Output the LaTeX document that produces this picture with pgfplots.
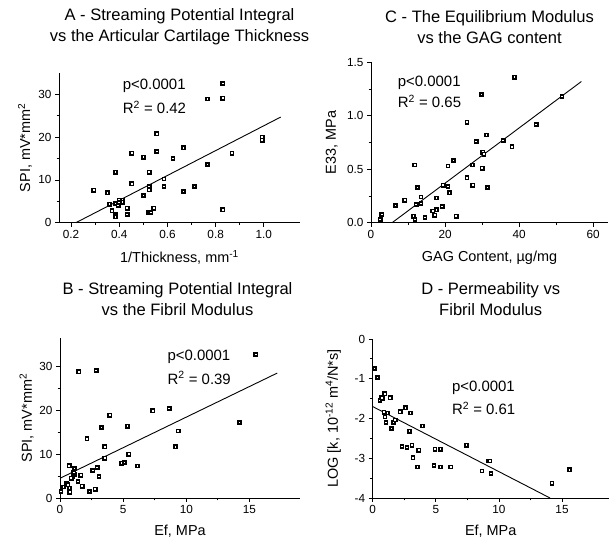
\documentclass[border=0pt]{standalone}
\usepackage{fontspec}
\setmainfont{Liberation Sans}
\usepackage{pgfplots}
\pgfplotsset{compat=1.18}
\pgfplotsset{
  panel/.style={
    scale only axis, anchor=south west,
    axis x line*=bottom, axis y line*=left,
    axis line style={-, line width=0.8bp},
    tick align=outside, major tick length=4bp, minor tick length=2.5bp,
    every tick/.style={black, line width=0.8bp},
    minor tick num=1,
    xtick pos=bottom, ytick pos=left,
    tick label style={font=\fontsize{11.8}{12}\selectfont},
    label style={font=\fontsize{14.5}{15}\selectfont},
    /pgf/number format/assume math mode=true,
    clip=false,
  },
  pts/.style={only marks, mark=square*, mark size=1.6bp,
    mark options={fill=white, draw=black, line width=1.6bp}},
  fitline/.style={no marks, black, line width=0.9bp},
}
\tikzset{
  ann/.style={font=\fontsize{15}{15}\selectfont, anchor=west, inner sep=0pt},
  ttl/.style={font=\fontsize{16.6}{21}\selectfont, align=center, inner sep=0pt},
}
\begin{document}
\begin{tikzpicture}[x=1bp,y=1bp]
\useasboundingbox (0,0) rectangle (609,539);

% ---------------- Panel A ----------------
\begin{axis}[panel, at={(59bp,316.3bp)}, width=241bp, height=149.7bp,
  xmin=0.15, xmax=1.15, ymin=0, ymax=35,
  xtick={0.2,0.4,0.6,0.8,1.0}, ytick={0,10,20,30},
  xticklabel style={/pgf/number format/.cd, fixed, fixed zerofill, precision=1},
  xlabel={1/Thickness, mm\textsuperscript{-1}},
  ylabel={SPI, mV*mm\textsuperscript{2}},
  xlabel style={at={(axis description cs:0.5,0)}, anchor=center, yshift=-34.6bp},
  ylabel style={at={(axis description cs:0,0.5)}, anchor=center, yshift=34bp}]
\addplot[pts] table {
0.830 32.5
0.766 28.9
0.830 29.1
0.993 20.0
0.993 19.3
0.556 20.8
0.452 16.25
0.501 15.3
0.556 16.6
0.666 17.5
0.623 15.0
0.868 16.25
0.385 11.8
0.524 11.8
0.766 13.6
0.586 10.2
0.586 8.5
0.452 9.1
0.524 8.4
0.524 7.7
0.713 8.5
0.666 7.3
0.294 7.6
0.352 7.0
0.501 6.4
0.359 4.3
0.400 5.3
0.414 5.3
0.385 4.5
0.400 4.7
0.396 4.0
0.414 4.8
0.370 2.8
0.385 1.95
0.385 1.4
0.433 3.4
0.433 1.9
0.522 2.4
0.531 2.4
0.543 3.4
0.830 3.0
};
\addplot[fitline] coordinates {(0.22,0) (1.07,24.7)};
\node[ann] at (axis cs:0.414,31.9) {p<0.0001};
\node[ann] at (axis cs:0.414,27.0) {R\textsuperscript{2} = 0.42};
\end{axis}

% ---------------- Panel C ----------------
\begin{axis}[panel, at={(371bp,316.3bp)}, width=237bp, height=160.4bp,
  xmin=0, xmax=64, ymin=0, ymax=1.5,
  xtick={0,20,40,60}, ytick={0,0.5,1.0,1.5},
  yticklabel style={/pgf/number format/.cd, fixed, fixed zerofill, precision=1},
  xlabel={GAG Content, µg/mg},
  ylabel={E33, MPa},
  xlabel style={at={(axis description cs:0.5,0)}, anchor=center, yshift=-34.6bp},
  ylabel style={at={(axis description cs:0,0.5)}, anchor=center, yshift=39.3bp}]
\addplot[pts] table {
38.7 1.36
29.8 1.20
51.6 1.18
25.9 0.94
44.6 0.92
31.2 0.82
28.4 0.76
35.7 0.77
38.1 0.71
30.2 0.66
30.5 0.64
11.8 0.54
20.8 0.53
22.3 0.58
27.4 0.54
30.0 0.51
25.9 0.42
27.5 0.35
31.5 0.33
19.5 0.35
20.8 0.34
21.2 0.28
12.6 0.33
13.5 0.24
13.5 0.18
12.2 0.17
9.1 0.21
6.6 0.16
17.7 0.23
19.2 0.15
17.7 0.12
16.7 0.11
17.2 0.07
11.5 0.06
11.9 0.03
14.6 0.05
23.0 0.06
2.9 0.075
2.5 0.03
};
\addplot[fitline] coordinates {(5.7,0) (56.8,1.32)};
\node[ann] at (axis cs:7.2,1.306) {p<0.0001};
\node[ann] at (axis cs:7.2,1.134) {R\textsuperscript{2} = 0.65};
\end{axis}

% ---------------- Panel B ----------------
\begin{axis}[panel, at={(60bp,41bp)}, width=240bp, height=160bp,
  xmin=0, xmax=19, ymin=0, ymax=36.5,
  xtick={0,5,10,15}, ytick={0,10,20,30},
  xlabel={Ef, MPa},
  ylabel={SPI, mV*mm\textsuperscript{2}},
  xlabel style={at={(axis description cs:0.5,0)}, anchor=center, yshift=-33bp},
  ylabel style={at={(axis description cs:0,0.5)}, anchor=center, yshift=33.3bp}]
\addplot[pts] table {
1.49 28.8
2.87 29.1
2.14 13.5
3.95 18.9
3.30 16.1
5.35 16.4
7.35 19.9
8.65 20.4
15.5 32.7
14.2 17.2
9.35 15.3
9.15 11.7
3.55 11.7
3.55 9.1
5.45 10.0
4.9 7.95
5.1 8.1
6.15 7.3
0.73 7.35
1.14 6.7
2.6 6.3
2.95 7.0
3.08 4.9
1.65 5.2
1.14 5.45
1.03 4.9
0.89 4.5
1.43 3.8
1.76 2.7
0.51 3.4
0.62 3.0
0.27 2.5
0.76 2.3
0.78 1.3
0.08 1.5
2.32 1.5
2.78 2.0
1.1 5.8
};
\addplot[fitline] coordinates {(0,4.5) (17.2,28.5)};
\node[ann] at (axis cs:8.5,32.2) {p<0.0001};
\node[ann] at (axis cs:8.5,27.4) {R\textsuperscript{2} = 0.39};
\end{axis}

% ---------------- Panel D ----------------
\begin{axis}[panel, at={(372.7bp,41bp)}, width=236bp, height=159bp,
  xmin=0, xmax=18.7, ymin=-4, ymax=0,
  xtick={0,5,10,15}, ytick={-4,-3,-2,-1,0},
  xlabel={Ef, MPa},
  ylabel={LOG [k, 10\textsuperscript{-12} m\textsuperscript{4}/N*s]},
  xlabel style={at={(axis description cs:0.5,0)}, anchor=center, yshift=-33bp},
  ylabel style={at={(axis description cs:0,0.5)}, anchor=center, yshift=39.4bp}]
\addplot[pts] table {
0.13 -0.74
0.37 -0.97
0.58 -1.54
0.66 -1.47
0.75 -1.49
0.90 -1.37
0.98 -1.38
1.38 -1.48
0.90 -1.84
1.17 -1.86
0.98 -1.96
1.06 -2.10
1.49 -2.25
1.65 -2.10
1.78 -2.04
2.18 -1.83
2.61 -1.73
3.00 -1.86
2.93 -2.32
3.94 -2.19
2.32 -2.70
2.72 -2.73
3.12 -2.67
3.65 -2.80
3.20 -2.99
3.54 -3.22
4.93 -2.77
5.36 -2.77
4.85 -3.18
5.36 -3.22
6.18 -3.22
7.44 -2.67
8.66 -3.32
9.17 -3.07
9.30 -3.07
9.38 -3.38
14.2 -3.63
15.6 -3.29
};
\addplot[fitline] coordinates {(0,-1.70) (14.05,-4)};
\node[ann] at (axis cs:6.27,-1.24) {p<0.0001};
\node[ann] at (axis cs:6.27,-1.75) {R\textsuperscript{2} = 0.61};
\end{axis}

% ---------------- Titles ----------------
\node[ttl] at (179.5,512) {A - Streaming Potential Integral\\vs the Articular Cartilage Thickness};
\node[ttl] at (489.5,512) {C - The Equilibrium Modulus\\vs the GAG content};
\node[ttl] at (177.5,240.2) {B - Streaming Potential Integral\\vs the Fibril Modulus};
\node[ttl] at (490.7,240.2) {D - Permeability vs\\Fibril Modulus};
\end{tikzpicture}
\end{document}
